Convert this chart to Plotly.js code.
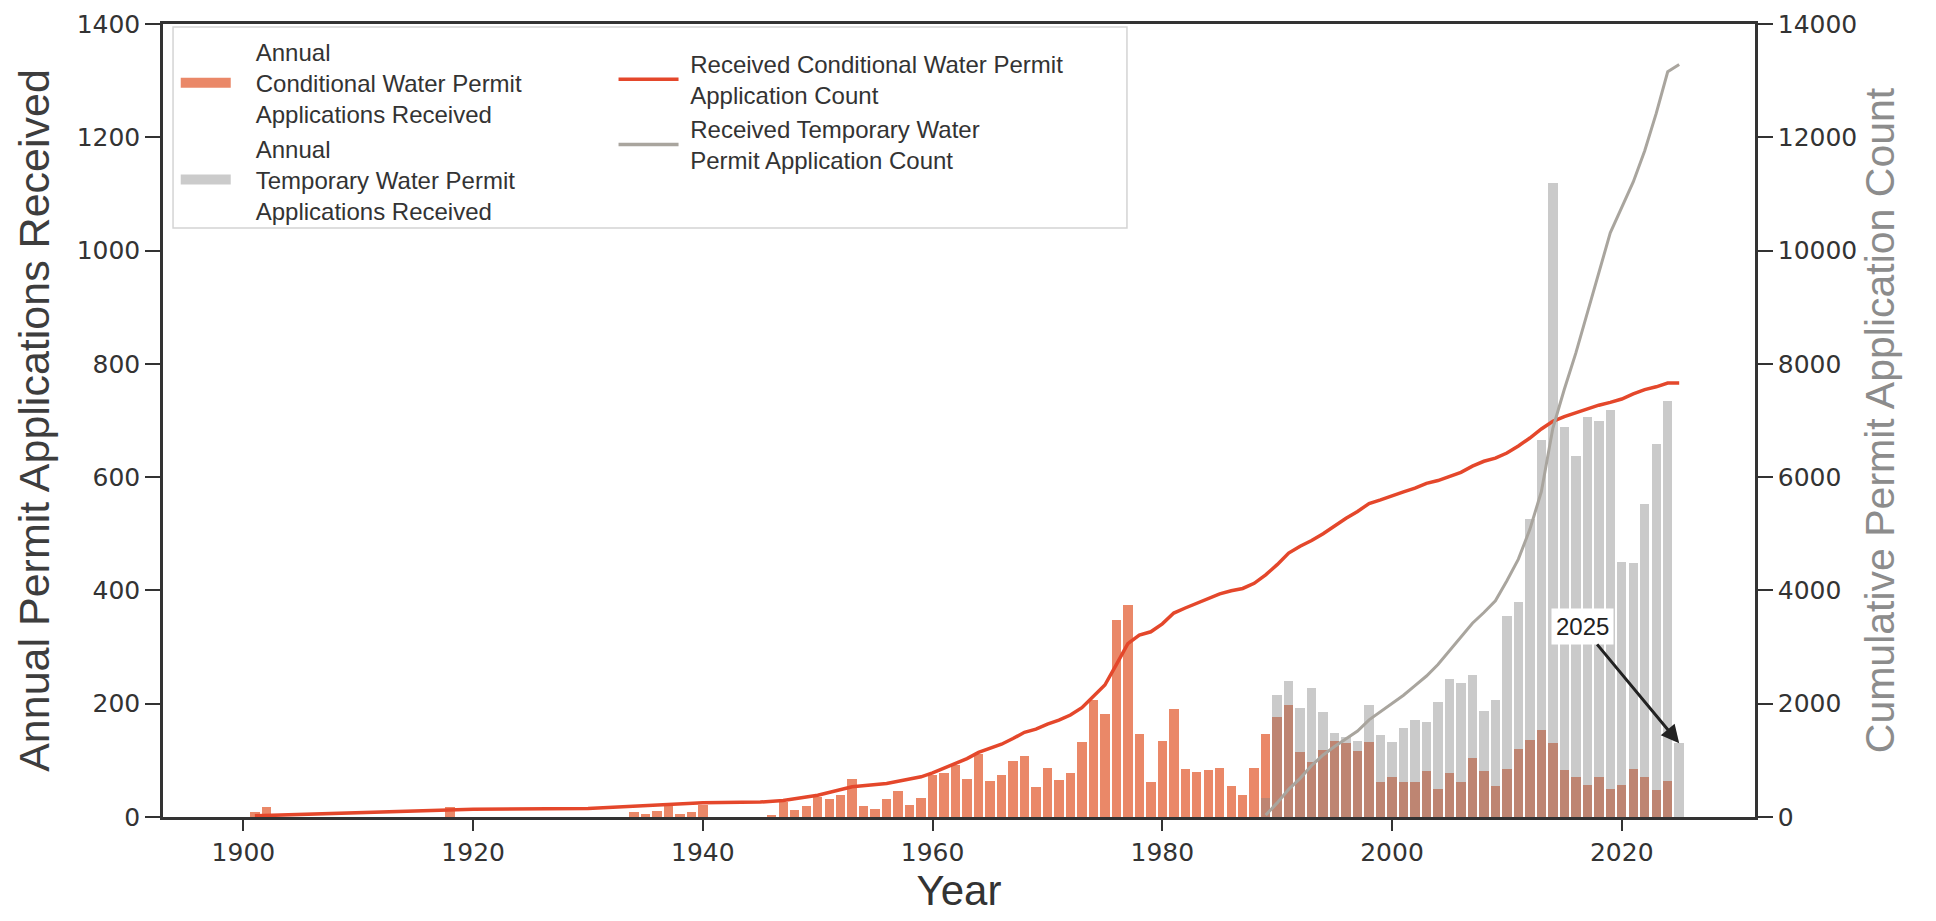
<!DOCTYPE html>
<html>
<head>
<meta charset="utf-8">
<script src="https://cdn.plot.ly/plotly-3.0.1.min.js"></script>
<style>html,body{margin:0;padding:0;background:#fff;}#chart{width:1936px;height:921px;}</style>
</head>
<body>
<div id="chart"></div>
<script>
// ---- Data ----
const conditionalYears = [1901,1902,1918,1934,1935,1936,1937,1938,1939,1940,1946,1947,1948,1949,1950,1951,1952,1953,1954,1955,1956,1957,1958,1959,1960,1961,1962,1963,1964,1965,1966,1967,1968,1969,1970,1971,1972,1973,1974,1975,1976,1977,1978,1979,1980,1981,1982,1983,1984,1985,1986,1987,1988,1989,1990,1991,1992,1993,1994,1995,1996,1997,1998,1999,2000,2001,2002,2003,2004,2005,2006,2007,2008,2009,2010,2011,2012,2013,2014,2015,2016,2017,2018,2019,2020,2021,2022,2023,2024];
const conditionalCounts = [8,18,18,9,5,10,21,6,8,22,3,26,13,19,35,32,39,67,19,15,31,46,21,34,74,77,91,67,112,64,75,99,108,53,87,65,78,132,206,182,348,374,147,61,135,190,84,80,83,86,54,39,87,146,177,198,115,97,118,135,131,116,133,61,71,62,62,82,49,77,62,105,81,54,84,120,136,154,130,83,70,56,70,50,56,85,71,47,63];

const temporaryYears = [1989,1990,1991,1992,1993,1994,1995,1996,1997,1998,1999,2000,2001,2002,2003,2004,2005,2006,2007,2008,2009,2010,2011,2012,2013,2014,2015,2016,2017,2018,2019,2020,2021,2022,2023,2024,2025];
const temporaryCounts = [33,216,240,193,227,186,148,142,134,197,144,133,157,171,168,203,243,237,250,188,207,355,380,526,665,1120,689,637,706,699,719,450,448,553,658,735,130];

const conditionalCumYears = [1901,1910,1920,1930,1935,1940,1945,1947,1950,1953,1956,1959,1960,1961,1962,1963,1964,1965,1966,1967,1968,1969,1970,1971,1972,1973,1974,1975,1976,1977,1978,1979,1980,1981,1982,1983,1984,1985,1986,1987,1988,1989,1990,1991,1992,1993,1994,1995,1996,1997,1998,1999,2000,2001,2002,2003,2004,2005,2006,2007,2008,2009,2010,2011,2012,2013,2014,2015,2016,2017,2018,2019,2020,2021,2022,2023,2024,2025];
const conditionalCumulative = [20,75,136,148,200,250,265,290,385,533,592,710,780,860,950,1030,1140,1210,1285,1385,1495,1550,1640,1710,1800,1930,2140,2330,2690,3060,3210,3270,3410,3600,3690,3770,3850,3940,3995,4035,4125,4275,4455,4660,4780,4880,5000,5140,5275,5395,5535,5600,5675,5740,5805,5890,5940,6020,6085,6195,6280,6335,6425,6550,6690,6850,6985,7070,7140,7200,7270,7320,7380,7470,7545,7595,7660,7660];

const temporaryCumYears = [1989,1990,1991,1992,1993,1994,1995,1996,1997,1998,1999,2000,2001,2002,2003,2004,2005,2006,2007,2008,2009,2010,2011,2012,2013,2014,2015,2016,2017,2018,2019,2020,2021,2022,2023,2024,2025];
const temporaryCumulative = [33,249,489,682,909,1095,1243,1385,1519,1716,1860,1993,2150,2321,2489,2692,2935,3172,3422,3610,3817,4172,4552,5078,5743,6863,7552,8189,8895,9594,10313,10763,11211,11764,12422,13157,13287];

const xTickVals = [1900,1920,1940,1960,1980,2000,2020];
const leftTickVals = [0,200,400,600,800,1000,1200,1400];
const rightTickVals = [0,2000,4000,6000,8000,10000,12000,14000];
const legendNames = {
  condBar: 'Annual<br>Conditional Water Permit<br>Applications Received',
  tempBar: 'Annual<br>Temporary Water Permit<br>Applications Received',
  condLine: 'Received Conditional Water Permit<br>Application Count',
  tempLine: 'Received Temporary Water<br>Permit Application Count'
};
const annotationYear = 2025;
const annotationValue = 130;

// ---- Styles ----
const ORANGE = '#EA8868';
const GRAYBAR = 'rgba(128,128,128,0.42)';
const RED = '#E4472B';
const GRAYLINE = '#A9A59E';
const AXIS = '#333333';
const tickFont = {family: 'DejaVu Sans, Liberation Sans, sans-serif', size: 25, color: '#333'};
const legFont = {family: 'Liberation Sans, Arial, sans-serif', size: 24, color: '#333'};
const NB = '\u00a0';

function pad(name, n) {
  const p = NB.repeat(n);
  return name.split('<br>').map(s => p + s).join('<br>');
}

const traces = [
  {type: 'bar', x: conditionalYears, y: conditionalCounts, width: 0.82,
   marker: {color: ORANGE, line: {width: 0}}, showlegend: false, hoverinfo: 'x+y'},
  {type: 'bar', x: temporaryYears, y: temporaryCounts, width: 0.82,
   marker: {color: GRAYBAR, line: {width: 0}}, showlegend: false, hoverinfo: 'x+y'},
  {type: 'scatter', mode: 'lines', x: conditionalCumYears, y: conditionalCumulative, yaxis: 'y2',
   line: {color: RED, width: 3.5}, showlegend: false},
  {type: 'scatter', mode: 'lines', x: temporaryCumYears, y: temporaryCumulative, yaxis: 'y2',
   line: {color: GRAYLINE, width: 3}, showlegend: false},
  // legend proxies
  {type: 'scatter', mode: 'lines', x: [null], y: [null], name: pad(legendNames.condBar, 3),
   line: {color: ORANGE, width: 19}, legend: 'legend'},
  {type: 'scatter', mode: 'lines', x: [null], y: [null], name: pad(legendNames.tempBar, 3),
   line: {color: '#CBCBCB', width: 19}, legend: 'legend'},
  {type: 'scatter', mode: 'lines', x: [null], y: [null], name: pad(legendNames.condLine, 1), yaxis: 'y2',
   line: {color: RED, width: 3.5}, legend: 'legend2'},
  {type: 'scatter', mode: 'lines', x: [null], y: [null], name: pad(legendNames.tempLine, 1), yaxis: 'y2',
   line: {color: GRAYLINE, width: 3.5}, legend: 'legend2'}
];

const layout = {
  width: 1936, height: 921,
  margin: {l: 163, r: 181, t: 24, b: 104},
  paper_bgcolor: '#ffffff', plot_bgcolor: '#ffffff',
  barmode: 'overlay', bargap: 0,
  xaxis: {
    range: [1893.0, 2031.6], tickvals: xTickVals, ticks: 'outside', ticklen: 11, tickwidth: 2,
    tickcolor: AXIS, showline: true, linecolor: AXIS, linewidth: 2.5, mirror: true,
    showgrid: false, zeroline: false, tickfont: tickFont,
    title: {text: 'Year', font: {family: 'Liberation Sans, Arial, sans-serif', size: 42, color: '#333'}, standoff: 4}
  },
  yaxis: {
    range: [0, 1400], tickvals: leftTickVals, ticktext: leftTickVals.map(String),
    ticks: 'outside', ticklen: 15, tickwidth: 2, tickcolor: AXIS,
    showline: true, linecolor: AXIS, linewidth: 2.5, showgrid: false, zeroline: false,
    tickfont: tickFont,
    title: {text: 'Annual Permit Applications Received', standoff: 14,
            font: {family: 'Liberation Sans, Arial, sans-serif', size: 43, color: '#3d3d3d'}}
  },
  yaxis2: {
    overlaying: 'y', side: 'right', range: [0, 14000], tickvals: rightTickVals,
    ticktext: rightTickVals.map(String), ticks: 'outside', ticklen: 15,
    tickwidth: 2, tickcolor: AXIS, showline: true, linecolor: AXIS, linewidth: 2.5,
    showgrid: false, zeroline: false, tickfont: tickFont,
    title: {text: 'Cumulative Permit Application Count', standoff: 8,
            font: {family: 'Liberation Sans, Arial, sans-serif', size: 41, color: '#8c8c8c'}}
  },
  legend: {x: 0.008, y: 0.993, xanchor: 'left', yanchor: 'top', bgcolor: 'rgba(0,0,0,0)',
           borderwidth: 0, font: legFont, itemwidth: 50, tracegroupgap: 0},
  legend2: {x: 0.283, y: 0.978, xanchor: 'left', yanchor: 'top', bgcolor: 'rgba(0,0,0,0)',
            borderwidth: 0, font: legFont, itemwidth: 60, tracegroupgap: 0},
  shapes: [{type: 'rect', xref: 'paper', yref: 'paper', x0: 0.0063, x1: 0.6055, y0: 0.7427, y1: 0.9962,
            fillcolor: 'rgba(255,255,255,0.85)', line: {color: '#d4d4d4', width: 1.5}, layer: 'above'}],
  annotations: [{x: annotationYear, y: annotationValue, xref: 'x', yref: 'y', text: String(annotationYear),
                 showarrow: true, arrowhead: 2, arrowsize: 1.2, arrowwidth: 3, arrowcolor: '#222',
                 ax: -97, ay: -117, bgcolor: '#ffffff', borderpad: 4,
                 font: {family: 'Liberation Sans, Arial, sans-serif', size: 24, color: '#222'}}]
};

Plotly.newPlot('chart', traces, layout, {displayModeBar: false, responsive: false});
</script>
</body>
</html>
